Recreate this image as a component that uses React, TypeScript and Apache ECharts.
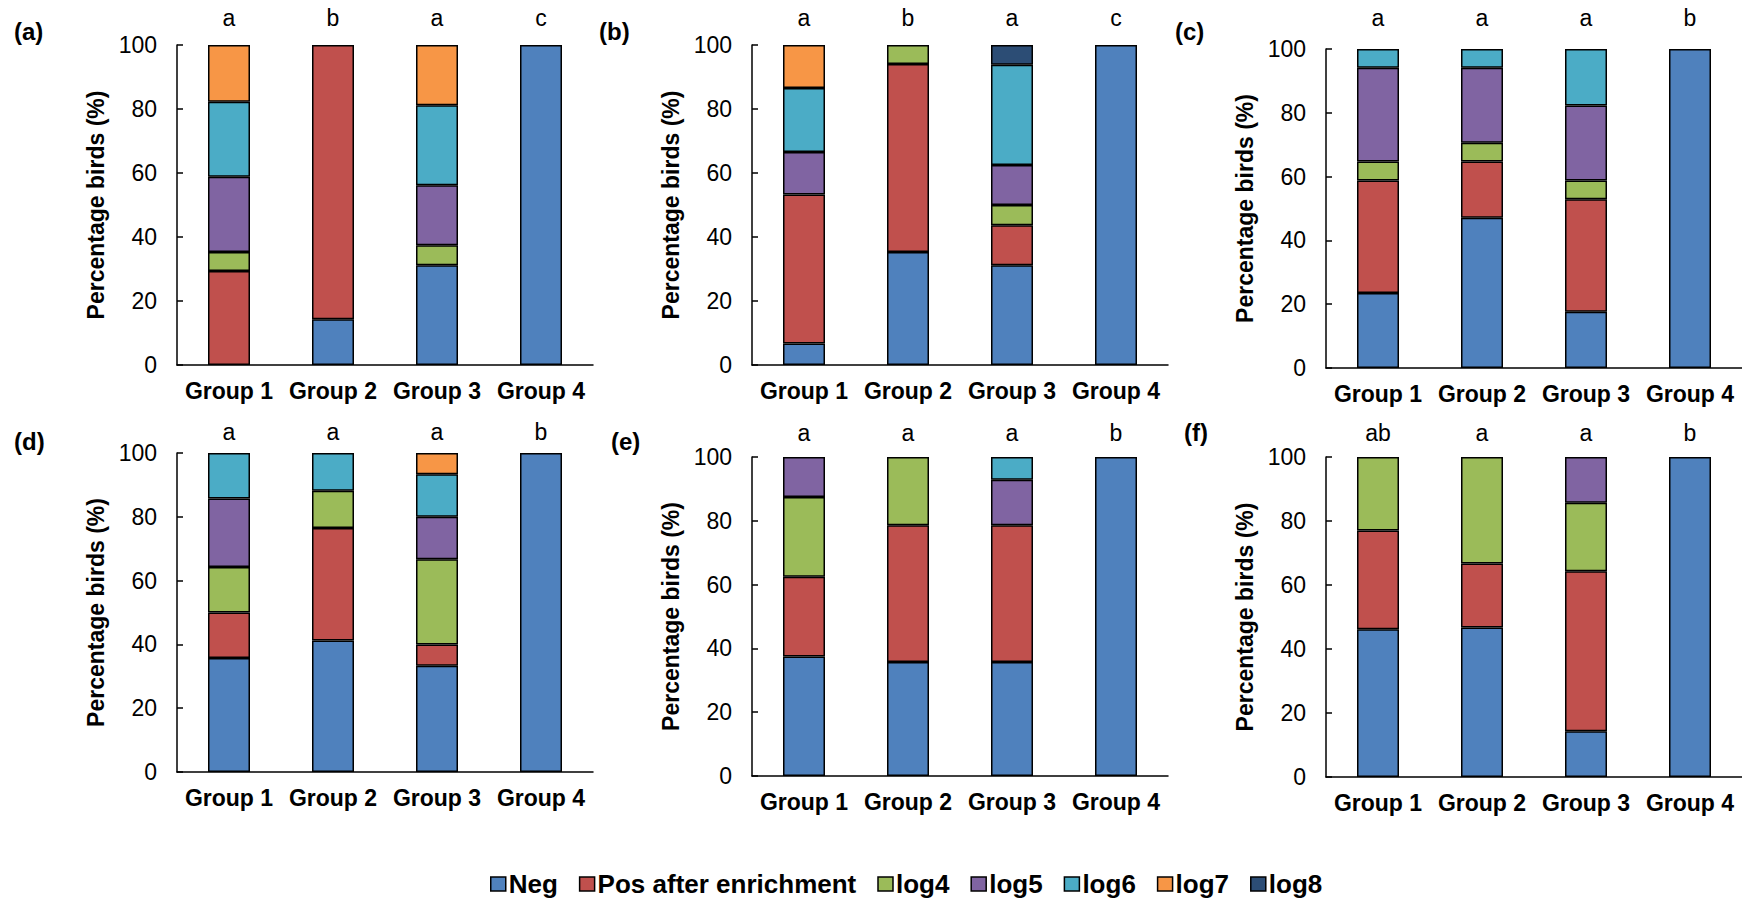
import React, { useEffect, useRef } from "react";
import * as echarts from "echarts";

// ---------- data ----------
const groups = ["Group 1", "Group 2", "Group 3", "Group 4"];
const seriesNames = ["Neg", "Pos after enrichment", "log4", "log5", "log6", "log7", "log8"];
const seriesColors = ["#4F81BD", "#C0504D", "#9BBB59", "#8064A2", "#4BACC6", "#F79646", "#2C4D75"];
const yTickMax = 100;
const yTickStep = 20;

// rows follow seriesNames order; columns follow groups order (percent of birds)
const panelA = [
  [0, 14.3, 31.2, 100],
  [29.4, 85.7, 0, 0],
  [5.9, 0, 6.2, 0],
  [23.5, 0, 18.8, 0],
  [23.5, 0, 25.0, 0],
  [17.7, 0, 18.8, 0],
  [0, 0, 0, 0],
];
const panelB = [
  [6.7, 35.3, 31.2, 100],
  [46.6, 58.8, 12.5, 0],
  [0, 5.9, 6.3, 0],
  [13.3, 0, 12.5, 0],
  [20.0, 0, 31.3, 0],
  [13.4, 0, 0, 0],
  [0, 0, 6.2, 0],
];
const panelC = [
  [23.5, 47.1, 17.6, 100],
  [35.3, 17.6, 35.3, 0],
  [5.9, 5.9, 5.9, 0],
  [29.4, 23.5, 23.5, 0],
  [5.9, 5.9, 17.7, 0],
  [0, 0, 0, 0],
  [0, 0, 0, 0],
];
const panelD = [
  [35.7, 41.2, 33.3, 100],
  [14.3, 35.3, 6.7, 0],
  [14.3, 11.7, 26.7, 0],
  [21.4, 0, 13.3, 0],
  [14.3, 11.8, 13.3, 0],
  [0, 0, 6.7, 0],
  [0, 0, 0, 0],
];
const panelE = [
  [37.5, 35.7, 35.7, 100],
  [25.0, 42.9, 42.9, 0],
  [25.0, 21.4, 0, 0],
  [12.5, 0, 14.3, 0],
  [0, 0, 7.1, 0],
  [0, 0, 0, 0],
  [0, 0, 0, 0],
];
const panelF = [
  [46.2, 46.7, 14.3, 100],
  [30.8, 20.0, 50.0, 0],
  [23.0, 33.3, 21.4, 0],
  [0, 0, 14.3, 0],
  [0, 0, 0, 0],
  [0, 0, 0, 0],
  [0, 0, 0, 0],
];

const lettersA = ["a", "b", "a", "c"];
const lettersB = ["a", "b", "a", "c"];
const lettersC = ["a", "a", "a", "b"];
const lettersD = ["a", "a", "a", "b"];
const lettersE = ["a", "a", "a", "b"];
const lettersF = ["ab", "a", "a", "b"];

const panelTags = ["(a)", "(b)", "(c)", "(d)", "(e)", "(f)"];
const yAxisTitle = "Percentage birds (%)";

const panels = [panelA, panelB, panelC, panelD, panelE, panelF];
const letters = [lettersA, lettersB, lettersC, lettersD, lettersE, lettersF];

// ---------- layout (pixels) ----------
const layout = [
  { left: 177, top: 45, height: 320, tagX: 14, tagY: 19, letterGap: 16 },
  { left: 752, top: 45, height: 320, tagX: 599, tagY: 19, letterGap: 16 },
  { left: 1326, top: 49, height: 319, tagX: 1175, tagY: 19, letterGap: 20 },
  { left: 177, top: 453, height: 319, tagX: 14, tagY: 429, letterGap: 10 },
  { left: 752, top: 457, height: 319, tagX: 611, tagY: 429, letterGap: 13 },
  { left: 1326, top: 457, height: 320, tagX: 1184, tagY: 420, letterGap: 13 },
];
const gridWidth = 416;
const FONT = "'Liberation Sans', Arial, sans-serif";

function buildOption() {
  const grid: any[] = [];
  const xAxis: any[] = [];
  const yAxis: any[] = [];
  const series: any[] = [];
  const title: any[] = [];

  panels.forEach((panel, i) => {
    const L = layout[i];
    grid.push({ left: L.left, top: L.top, width: gridWidth, height: L.height, containLabel: false });
    xAxis.push({
      type: "category",
      gridIndex: i,
      data: groups,
      position: "bottom",
      axisLine: { show: true, lineStyle: { color: "#000", width: 1.5 } },
      axisTick: { show: false },
      axisLabel: { color: "#000", fontSize: 23, fontWeight: "bold", fontFamily: FONT, margin: 14, interval: 0 },
    });
    xAxis.push({
      type: "category",
      gridIndex: i,
      data: letters[i],
      position: "top",
      axisLine: { show: false },
      axisTick: { show: false },
      axisLabel: { color: "#000", fontSize: 23, fontFamily: FONT, margin: L.letterGap, interval: 0 },
    });
    yAxis.push({
      type: "value",
      gridIndex: i,
      min: 0,
      max: yTickMax,
      interval: yTickStep,
      name: yAxisTitle,
      nameLocation: "middle",
      nameRotate: 90,
      nameGap: 70,
      nameTextStyle: { color: "#000", fontSize: 23, fontWeight: "bold", fontFamily: FONT },
      axisLine: { show: true, lineStyle: { color: "#000", width: 1.5 } },
      axisTick: { show: true, inside: true, length: 6, lineStyle: { color: "#000", width: 1.5 } },
      axisLabel: { color: "#000", fontSize: 23, fontFamily: FONT, margin: 20 },
      splitLine: { show: false },
    });
    panel.forEach((vals, s) => {
      series.push({
        type: "bar",
        name: seriesNames[s],
        xAxisIndex: 2 * i,
        yAxisIndex: i,
        stack: "panel" + i,
        barWidth: 42,
        data: vals.map((v) => (v > 0 ? v : null)),
        itemStyle: { color: seriesColors[s], borderColor: "#000", borderWidth: 1.5 },
      });
    });
    title.push({
      text: panelTags[i],
      left: L.tagX,
      top: L.tagY,
      padding: 0,
      textStyle: { color: "#000", fontSize: 24, fontWeight: "bold", fontFamily: FONT },
    });
  });

  return {
    animation: false,
    backgroundColor: "#fff",
    title,
    grid,
    xAxis,
    yAxis,
    series,
    legend: {
      data: seriesNames,
      left: 490,
      top: 871,
      padding: 0,
      itemWidth: 15,
      itemHeight: 14,
      itemGap: 21,
      icon: "rect",
      itemStyle: { borderColor: "#000", borderWidth: 1.5 },
      textStyle: { color: "#000", fontSize: 26, fontWeight: "bold", fontFamily: FONT, padding: [0, 0, 0, -2] },
    },
  };
}

export default function App() {
  const ref = useRef<HTMLDivElement>(null);
  useEffect(() => {
    if (!ref.current) return;
    const chart = echarts.init(ref.current, undefined, { renderer: "svg" });
    chart.setOption(buildOption() as any);
    return () => chart.dispose();
  }, []);
  return (
    <div
      ref={ref}
      style={{ position: "absolute", left: 0, top: 0, width: 1742, height: 899, background: "#fff" }}
    />
  );
}
